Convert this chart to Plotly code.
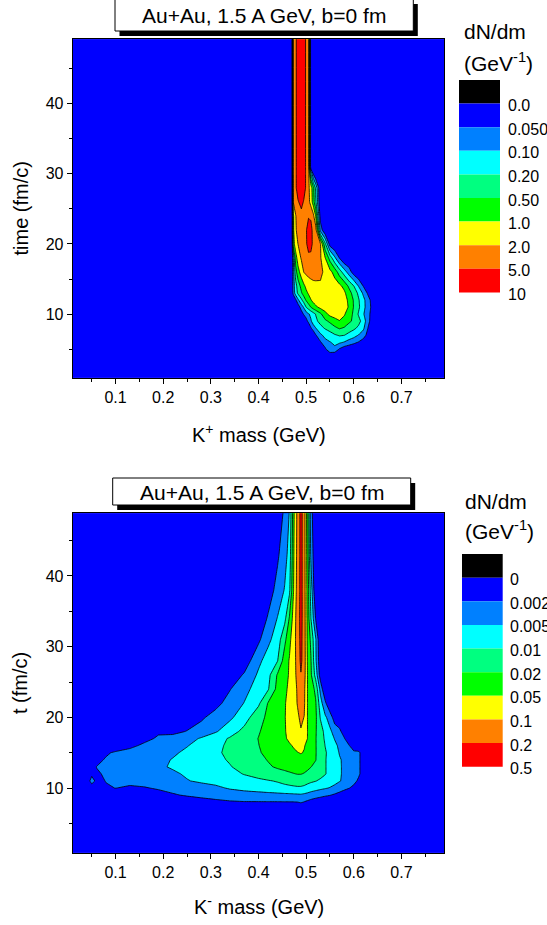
import numpy as np
import plotly.graph_objects as go

# ---------------- data ----------------
# contour levels (legend) of the two panels
kplus_levels = [0.0, 0.05, 0.1, 0.2, 0.5, 1.0, 2.0, 5.0, 10.0]
kplus_level_labels = ["0.0", "0.050", "0.10", "0.20", "0.50", "1.0", "2.0", "5.0", "10"]
kminus_levels = [0.0, 0.002, 0.005, 0.01, 0.02, 0.05, 0.1, 0.2, 0.5]
kminus_level_labels = ["0", "0.002", "0.005", "0.01", "0.02", "0.05", "0.1", "0.2", "0.5"]

# K+ panel: dN/dm (GeV^-1) on a mass (GeV) x time (fm/c) grid
kplus_mass = [0.0, 0.46, 0.470, 0.473, 0.478, 0.483, 0.490, 0.495, 0.500, 0.505, 0.510, 0.515, 0.52,
              0.53, 0.54, 0.55, 0.56, 0.57, 0.58, 0.59, 0.60, 0.61, 0.62, 0.63, 0.64, 0.65, 0.80]
kplus_time = [0.5, 4, 5, 6, 7, 8, 9, 10, 11, 12, 13, 14, 16, 18, 20, 22, 24, 26, 28, 30, 31, 49.5]
kplus_dndm = [
    [0]*27,
    [0]*27,
    [0, 0, 0, 0, 0, 0, 0, 0, 0, 0, 0, 0, 0, 0, 0.04, 0.095, 0.09, 0.045, 0.02, 0.01, 0, 0, 0, 0, 0, 0, 0],
    [0, 0, 0, 0, 0, 0, 0, 0, 0, 0, 0, 0, 0, 0.045, 0.085, 0.098, 0.12, 0.12, 0.098, 0.08, 0.065, 0.048, 0.025, 0, 0, 0, 0],
    [0, 0, 0, 0, 0, 0, 0, 0, 0, 0, 0, 0, 0.045, 0.09, 0.13, 0.16, 0.19, 0.23, 0.21, 0.17, 0.14, 0.098, 0.075, 0.03, 0, 0, 0],
    [0, 0, 0, 0, 0, 0, 0, 0, 0, 0, 0.045, 0.08, 0.098, 0.17, 0.23, 0.32, 0.44, 0.55, 0.47, 0.35, 0.26, 0.18, 0.12, 0.048, 0.01, 0, 0],
    [0, 0, 0, 0, 0, 0, 0, 0, 0.03, 0.065, 0.095, 0.14, 0.18, 0.29, 0.44, 0.6, 0.8, 0.975, 0.85, 0.6, 0.44, 0.29, 0.16, 0.065, 0.02, 0, 0],
    [0, 0, 0, 0, 0, 0, 0.025, 0.055, 0.075, 0.095, 0.12, 0.16, 0.21, 0.44, 0.85, 1.3, 1.5, 1.5, 1.1, 0.75, 0.44, 0.19, 0.11, 0.065, 0.025, 0, 0],
    [0, 0, 0, 0, 0, 0.02, 0.075, 0.11, 0.21, 0.35, 0.52, 0.75, 0.9, 1.3, 1.5, 1.6, 1.6, 1.6, 1.4, 0.95, 0.48, 0.26, 0.13, 0.075, 0.03, 0, 0],
    [0, 0, 0, 0, 0.04, 0.09, 0.18, 0.35, 0.55, 0.8, 0.975, 1.3, 1.5, 1.6, 1.7, 1.7, 1.7, 1.6, 1.35, 0.9, 0.47, 0.23, 0.13, 0.07, 0.025, 0, 0],
    [0, 0, 0, 0.065, 0.15, 0.26, 0.47, 0.7, 0.9, 1.1, 1.4, 1.6, 1.7, 1.8, 1.85, 1.85, 1.8, 1.6, 1.2, 0.7, 0.38, 0.18, 0.09, 0.04, 0, 0, 0],
    [0, 0, 0, 0.075, 0.16, 0.35, 0.65, 0.9, 1.2, 1.5, 1.7, 1.8, 1.85, 1.9, 1.85, 1.75, 1.55, 1.25, 0.85, 0.44, 0.21, 0.098, 0.048, 0.005, 0, 0, 0],
    [0, 0, 0, 0.08, 0.38, 0.8, 1.5, 2.05, 2.6, 2.9, 2.9, 2.9, 2.75, 2.45, 1.85, 1.3, 0.8, 0.35, 0.15, 0.075, 0.025, 0, 0, 0, 0, 0, 0],
    [0, 0, 0, 0.098, 0.75, 1.5, 2.3, 3.2, 3.8, 4.4, 4.4, 3.8, 3.2, 2.3, 1.02, 0.38, 0.12, 0.048, 0, 0, 0, 0, 0, 0, 0, 0, 0],
    [0, 0, 0, 0.75, 1.6, 2.05, 2.9, 3.8, 4.7, 6.5, 6.25, 4.4, 3.5, 2.3, 0.26, 0.025, 0, 0, 0, 0, 0, 0, 0, 0, 0, 0, 0],
    [0, 0, 0, 0.9, 1.9, 2.9, 3.5, 4.1, 4.85, 6.25, 6.0, 4.4, 3.5, 0.08, 0, 0, 0, 0, 0, 0, 0, 0, 0, 0, 0, 0, 0],
    [0, 0, 0, 0.9, 1.95, 3.2, 3.8, 4.1, 4.4, 4.85, 4.7, 2.9, 0.98, 0.025, 0, 0, 0, 0, 0, 0, 0, 0, 0, 0, 0, 0, 0],
    [0, 0, 0, 2.05, 3.8, 4.7, 7.0, 4.7, 3.8, 2.9, 1.6, 0.75, 0.26, 0, 0, 0, 0, 0, 0, 0, 0, 0, 0, 0, 0, 0, 0],
    [0, 0, 0, 2.9, 4.4, 8.0, 9.0, 8.0, 4.4, 2.6, 1.5, 0.65, 0.18, 0, 0, 0, 0, 0, 0, 0, 0, 0, 0, 0, 0, 0, 0],
    [0, 0, 0, 3.2, 4.4, 8.0, 9.0, 8.0, 4.4, 3.2, 0.21, 0.045, 0, 0, 0, 0, 0, 0, 0, 0, 0, 0, 0, 0, 0, 0, 0],
    [0, 0, 0, 3.2, 4.4, 8.0, 9.0, 8.0, 4.4, 3.5, 0, 0, 0, 0, 0, 0, 0, 0, 0, 0, 0, 0, 0, 0, 0, 0, 0],
    [0, 0, 0, 3.2, 4.4, 8.0, 9.0, 8.0, 4.4, 3.5, 0, 0, 0, 0, 0, 0, 0, 0, 0, 0, 0, 0, 0, 0, 0, 0, 0],
]

# K- panel: dN/dm (GeV^-1) on a mass (GeV) x time (fm/c) grid
kminus_mass = [0.0, 0.04, 0.05, 0.06, 0.08, 0.10, 0.13, 0.16, 0.19, 0.22, 0.25, 0.28, 0.31, 0.34,
               0.37, 0.40, 0.42, 0.44, 0.455, 0.465, 0.475, 0.482, 0.489, 0.496, 0.503, 0.51, 0.52,
               0.53, 0.54, 0.55, 0.56, 0.57, 0.58, 0.59, 0.60, 0.61, 0.62, 0.63, 0.80]
kminus_time = [0.5, 7, 8, 9, 10, 11, 12, 13, 14, 15, 16, 17, 18, 20, 22, 24, 26, 28, 31, 34, 38, 43, 49.5]
kminus_dndm = [
    [0]*39,
    [0]*39,
    [0, 0, 0, 0, 0, 0, 0, 0, 0, 0.0002, 0.0008, 0.0012, 0.00156, 0.0018, 0.0019, 0.0019, 0.0019, 0.0019,
     0.00192, 0.00192, 0.00194, 0.00198, 0.0023, 0.0019, 0.0016, 0.0013, 0.001, 0.0007, 0.0004, 0.0002,
     0, 0, 0, 0, 0, 0, 0, 0, 0],
    [0, 0, 0, 0, 0, 0, 0, 0, 0.001, 0.0018, 0.0023, 0.00275, 0.00305, 0.00335, 0.00365, 0.00386, 0.00404,
     0.00419, 0.00434, 0.0044, 0.00449, 0.00455, 0.00464, 0.0044, 0.0041, 0.00365, 0.0032, 0.00284,
     0.00245, 0.00212, 0.0017, 0.0012, 0.0006, 0, 0, 0, 0, 0, 0],
    [0, 0, 0, 0.0006, 0.0017, 0.00206, 0.0016, 0.0018, 0.00245, 0.0029, 0.00335, 0.0038, 0.0044, 0.0055,
     0.0065, 0.00725, 0.00775, 0.00825, 0.0086, 0.00885, 0.0091, 0.00925, 0.00925, 0.0089, 0.00825,
     0.0075, 0.00675, 0.006, 0.0054, 0.00485, 0.00434, 0.00365, 0.0029, 0.00215, 0.0014, 0.0004, 0, 0, 0],
    [0, 0, 0.0041, 0.0012, 0.00215, 0.0026, 0.00305, 0.0035, 0.00386, 0.00425, 0.00485, 0.00575, 0.0065,
     0.00725, 0.008, 0.009, 0.00965, 0.0107, 0.0125, 0.0135, 0.0145, 0.015, 0.015, 0.014, 0.0125, 0.0115,
     0.0103, 0.00925, 0.00825, 0.00725, 0.00625, 0.00525, 0.00455, 0.0038, 0.00305, 0.0016, 0, 0, 0],
    [0, 0, 0.0012, 0.0018, 0.0023, 0.00275, 0.0032, 0.00365, 0.0041, 0.00455, 0.0056, 0.0065, 0.0075,
     0.0085, 0.0105, 0.0135, 0.0155, 0.017, 0.0182, 0.019, 0.0198, 0.0209, 0.0209, 0.0195, 0.0185, 0.017,
     0.015, 0.013, 0.0105, 0.00875, 0.00725, 0.0055, 0.00455, 0.00389, 0.00326, 0.0026, 0.001, 0, 0],
    [0, 0, 0.001, 0.00206, 0.00245, 0.0029, 0.00335, 0.0038, 0.00455, 0.0055, 0.0065, 0.0075, 0.0086,
     0.00975, 0.013, 0.0165, 0.019, 0.023, 0.026, 0.0284, 0.0299, 0.0305, 0.0305, 0.029, 0.0245, 0.0206,
     0.018, 0.0145, 0.0105, 0.00875, 0.007, 0.0055, 0.00455, 0.00389, 0.0032, 0.0026, 0.001, 0, 0],
    [0, 0, 0.0006, 0.0012, 0.00245, 0.0029, 0.00335, 0.0038, 0.00425, 0.00525, 0.0065, 0.00775, 0.009,
     0.0108, 0.0145, 0.018, 0.0212, 0.0275, 0.032, 0.035, 0.038, 0.0404, 0.0416, 0.0395, 0.035, 0.029,
     0.0209, 0.0155, 0.0105, 0.00875, 0.007, 0.0054, 0.00455, 0.00389, 0.00326, 0.0026, 0.001, 0, 0],
    [0, 0, 0, 0, 0.0016, 0.0026, 0.00305, 0.0035, 0.00395, 0.00455, 0.00595, 0.0076, 0.00925, 0.012,
     0.0156, 0.0193, 0.0251, 0.032, 0.038, 0.0425, 0.0464, 0.0491, 0.0525, 0.0485, 0.044, 0.0365, 0.0215,
     0.0155, 0.011, 0.0085, 0.00675, 0.00485, 0.00425, 0.00365, 0.00305, 0.00275, 0.0008, 0, 0],
    [0, 0, 0, 0, 0, 0, 0.0015, 0.0026, 0.0032, 0.0038, 0.00485, 0.00685, 0.00885, 0.0118, 0.0158, 0.0198,
     0.0281, 0.0365, 0.0428, 0.047, 0.055, 0.0625, 0.065, 0.0525, 0.044, 0.035, 0.0215, 0.015, 0.0099,
     0.008, 0.006, 0.00449, 0.00335, 0.0023, 0, 0, 0, 0, 0],
    [0, 0, 0, 0, 0, 0, 0, 0.0014, 0.00245, 0.0032, 0.00395, 0.0055, 0.008, 0.011, 0.0156, 0.0206, 0.0299,
     0.0398, 0.047, 0.0575, 0.0675, 0.075, 0.08, 0.07, 0.0495, 0.038, 0.0215, 0.0145, 0.00925, 0.007,
     0.00485, 0.00365, 0.0023, 0, 0, 0, 0, 0, 0],
    [0, 0, 0, 0, 0, 0, 0, 0, 0.0017, 0.0014, 0.00215, 0.0032, 0.0047, 0.0079, 0.0127, 0.0193, 0.029,
     0.0395, 0.0476, 0.065, 0.08, 0.09, 0.0975, 0.0875, 0.0495, 0.038, 0.0224, 0.014, 0.0087, 0.00585,
     0.00401, 0.0029, 0.0008, 0, 0, 0, 0, 0, 0],
    [0, 0, 0, 0, 0, 0, 0, 0, 0, 0, 0.0006, 0.0017, 0.00311, 0.00443, 0.00785, 0.0163, 0.0263, 0.0392,
     0.0488, 0.064, 0.0815, 0.094, 0.115, 0.099, 0.049, 0.0401, 0.0257, 0.0096, 0.00575, 0.0038, 0.0008,
     0, 0, 0, 0, 0, 0, 0, 0],
    [0, 0, 0, 0, 0, 0, 0, 0, 0, 0, 0, 0.0004, 0.0014, 0.00314, 0.00515, 0.0091, 0.0215, 0.0365, 0.0479,
     0.065, 0.087, 0.105, 0.135, 0.115, 0.049, 0.0389, 0.023, 0.00715, 0.00266, 0, 0, 0, 0, 0, 0, 0, 0, 0, 0],
    [0, 0, 0, 0, 0, 0, 0, 0, 0, 0, 0, 0, 0.0006, 0.0019, 0.0041, 0.0071, 0.0095, 0.0296, 0.044, 0.06,
     0.086, 0.11, 0.15, 0.12, 0.049, 0.0365, 0.0175, 0.00401, 0, 0, 0, 0, 0, 0, 0, 0, 0, 0, 0],
    [0, 0, 0, 0, 0, 0, 0, 0, 0, 0, 0, 0, 0, 0.0007, 0.00233, 0.0058, 0.0084, 0.0233, 0.0404, 0.0545,
     0.086, 0.13, 0.195, 0.14, 0.0485, 0.0245, 0.0082, 0.001, 0, 0, 0, 0, 0, 0, 0, 0, 0, 0, 0],
    [0, 0, 0, 0, 0, 0, 0, 0, 0, 0, 0, 0, 0, 0, 0.0008, 0.00431, 0.0071, 0.00985, 0.035, 0.0535, 0.0865,
     0.138, 0.26, 0.15, 0.0464, 0.0218, 0.00585, 0.0004, 0, 0, 0, 0, 0, 0, 0, 0, 0, 0, 0],
    [0, 0, 0, 0, 0, 0, 0, 0, 0, 0, 0, 0, 0, 0, 0, 0.0016, 0.00428, 0.0075, 0.0175, 0.0425, 0.085, 0.15,
     0.275, 0.15, 0.0425, 0.018, 0.0055, 0, 0, 0, 0, 0, 0, 0, 0, 0, 0, 0, 0],
    [0, 0, 0, 0, 0, 0, 0, 0, 0, 0, 0, 0, 0, 0, 0, 0.0006, 0.0023, 0.00525, 0.00865, 0.023, 0.08, 0.15,
     0.29, 0.15, 0.041, 0.0101, 0.0019, 0, 0, 0, 0, 0, 0, 0, 0, 0, 0, 0, 0],
    [0, 0, 0, 0, 0, 0, 0, 0, 0, 0, 0, 0, 0, 0, 0, 0, 0.001, 0.00299, 0.00535, 0.009, 0.0665, 0.14, 0.29,
     0.15, 0.038, 0.008, 0, 0, 0, 0, 0, 0, 0, 0, 0, 0, 0, 0, 0],
    [0, 0, 0, 0, 0, 0, 0, 0, 0, 0, 0, 0, 0, 0, 0, 0, 0, 0.0017, 0.0038, 0.007, 0.06, 0.135, 0.29, 0.15,
     0.0335, 0.0044, 0, 0, 0, 0, 0, 0, 0, 0, 0, 0, 0, 0, 0],
    [0, 0, 0, 0, 0, 0, 0, 0, 0, 0, 0, 0, 0, 0, 0, 0, 0, 0, 0.00269, 0.0051, 0.051, 0.13, 0.29, 0.15,
     0.0299, 0.0032, 0, 0, 0, 0, 0, 0, 0, 0, 0, 0, 0, 0, 0],
]

panel_title = "Au+Au, 1.5 A GeV, b=0 fm"
x_titles = ["K<sup>+</sup> mass (GeV)", "K<sup>-</sup> mass (GeV)"]
y_titles = ["time (fm/c)", "t (fm/c)"]
legend_title = ["dN/dm", "(GeV<sup>-1</sup>)"]

# ---------------- styling ----------------
below_zero_color = "#000000"
band_colors = ["#0000FF", "#0080FF", "#00FFFF", "#00FF80", "#00FF00", "#FFFF00", "#FF8000", "#FF0000"]
FONT = "Liberation Sans, Arial, sans-serif"
W, H = 547, 925


def fx(px):
    return px / W


def fy(py):
    return 1 - py / H


def to_band(values, levels):
    # position of each value on the (non-uniform) legend scale: level i -> i
    return np.interp(np.asarray(values, float), levels, np.arange(len(levels)))


colorscale = [[i / 7, c] for i, c in enumerate(band_colors)]

fig = go.Figure()
panels = [
    (kplus_mass, kplus_time, kplus_dndm, kplus_levels, "x", "y"),
    (kminus_mass, kminus_time, kminus_dndm, kminus_levels, "x2", "y2"),
]
for mass, time, dndm, levels, xa, ya in panels:
    fig.add_trace(go.Contour(
        x=mass, y=time, z=to_band(dndm, levels),
        contours=dict(start=1, end=7, size=1, coloring="fill", showlines=True),
        colorscale=colorscale, showscale=False,
        line=dict(color="black", width=0.8, smoothing=0),
        hoverinfo="skip", xaxis=xa, yaxis=ya,
    ))

xdom = [fx(72.7), fx(444.3)]
ydoms = [[fy(377.7), fy(39.3)], [fy(852.7), fy(513.3)]]
yranges = [[0.93, 49.19], [0.85, 48.87]]

common = dict(showline=True, linecolor="black", linewidth=1, mirror=True, ticks="outside",
              ticklen=5, tickwidth=1, tickcolor="black", showgrid=False, zeroline=False,
              tickfont=dict(size=16, color="black", family=FONT))
for i in range(2):
    sfx = "" if i == 0 else "2"
    fig.update_layout({
        f"xaxis{sfx}": dict(common, domain=xdom, range=[0.01, 0.79], anchor=f"y{sfx}",
                            tickmode="linear", tick0=0.1, dtick=0.1, tickformat=".1f",
                            minor=dict(ticks="outside", ticklen=3, tickcolor="black", tick0=0.05, dtick=0.05)),
        f"yaxis{sfx}": dict(common, domain=ydoms[i], range=yranges[i], anchor=f"x{sfx}",
                            tickmode="linear", tick0=10, dtick=10,
                            minor=dict(ticks="outside", ticklen=3, tickcolor="black", tick0=5, dtick=5)),
    })

shapes = []
annotations = []

# title boxes with drop shadow
boxes = [((115, -1, 413.3, 31), (264, 15.5)), ((112.7, 478, 410.7, 505), (261.7, 492.5))]
for (x0, y0, x1, y1), (tx, ty) in boxes:
    shapes.append(dict(type="rect", xref="paper", yref="paper", x0=fx(x0 + 4.5), x1=fx(x1 + 4.5),
                       y0=fy(y0 + 5), y1=fy(y1 + 5), fillcolor="black", line=dict(width=0)))
    shapes.append(dict(type="rect", xref="paper", yref="paper", x0=fx(x0), x1=fx(x1), y0=fy(y0), y1=fy(y1),
                       fillcolor="white", line=dict(color="black", width=1)))
    annotations.append(dict(text=panel_title, xref="paper", yref="paper", x=fx(tx), y=fy(ty),
                            xanchor="center", yanchor="middle", showarrow=False,
                            font=dict(size=21, color="black", family=FONT)))

# axis titles
xt_pos = [(258.5, 433), (258.5, 905)]
yt_pos = [(20, 208.5), (20, 683)]
for i in range(2):
    annotations.append(dict(text=x_titles[i], xref="paper", yref="paper", x=fx(xt_pos[i][0]),
                            y=fy(xt_pos[i][1]), xanchor="center", yanchor="middle", showarrow=False,
                            font=dict(size=20, color="black", family=FONT)))
    annotations.append(dict(text=y_titles[i], xref="paper", yref="paper", x=fx(yt_pos[i][0]),
                            y=fy(yt_pos[i][1]), xanchor="center", yanchor="middle", showarrow=False,
                            textangle=-90, font=dict(size=20, color="black", family=FONT)))

# legends (colour key)
legends = [
    dict(x0=459, x1=500, top=80, step=23.6, lab_x=506, labels=kplus_level_labels, t1=32, t2=62, tx=461.7),
    dict(x0=462, x1=502.7, top=554, step=23.63, lab_x=508.3, labels=kminus_level_labels, t1=501.7, t2=530, tx=463),
]
key_colors = [below_zero_color] + band_colors
for lg in legends:
    for j, col in enumerate(key_colors):
        y0 = lg["top"] + j * lg["step"]
        shapes.append(dict(type="rect", xref="paper", yref="paper", x0=fx(lg["x0"]), x1=fx(lg["x1"]),
                           y0=fy(y0 + lg["step"]), y1=fy(y0), fillcolor=col, line=dict(width=0)))
    for j, lab in enumerate(lg["labels"]):
        yc = lg["top"] + (j + 1) * lg["step"] + 2
        annotations.append(dict(text=lab, xref="paper", yref="paper", x=fx(lg["lab_x"]), y=fy(yc),
                                xanchor="left", yanchor="middle", showarrow=False,
                                font=dict(size=16, color="black", family=FONT)))
    for txt, yc in [(legend_title[0], lg["t1"]), (legend_title[1], lg["t2"])]:
        annotations.append(dict(text=txt, xref="paper", yref="paper", x=fx(lg["tx"]), y=fy(yc),
                                xanchor="left", yanchor="middle", showarrow=False,
                                font=dict(size=21, color="black", family=FONT)))

fig.update_layout(width=W, height=H, margin=dict(l=0, r=0, t=0, b=0), paper_bgcolor="white",
                  plot_bgcolor=band_colors[0], showlegend=False, shapes=shapes, annotations=annotations,
                  font=dict(family=FONT, color="black"))

fig.write_html("out.html", config={"displayModeBar": False},
               post_script="document.body.style.margin='0';document.body.style.overflow='hidden';")
